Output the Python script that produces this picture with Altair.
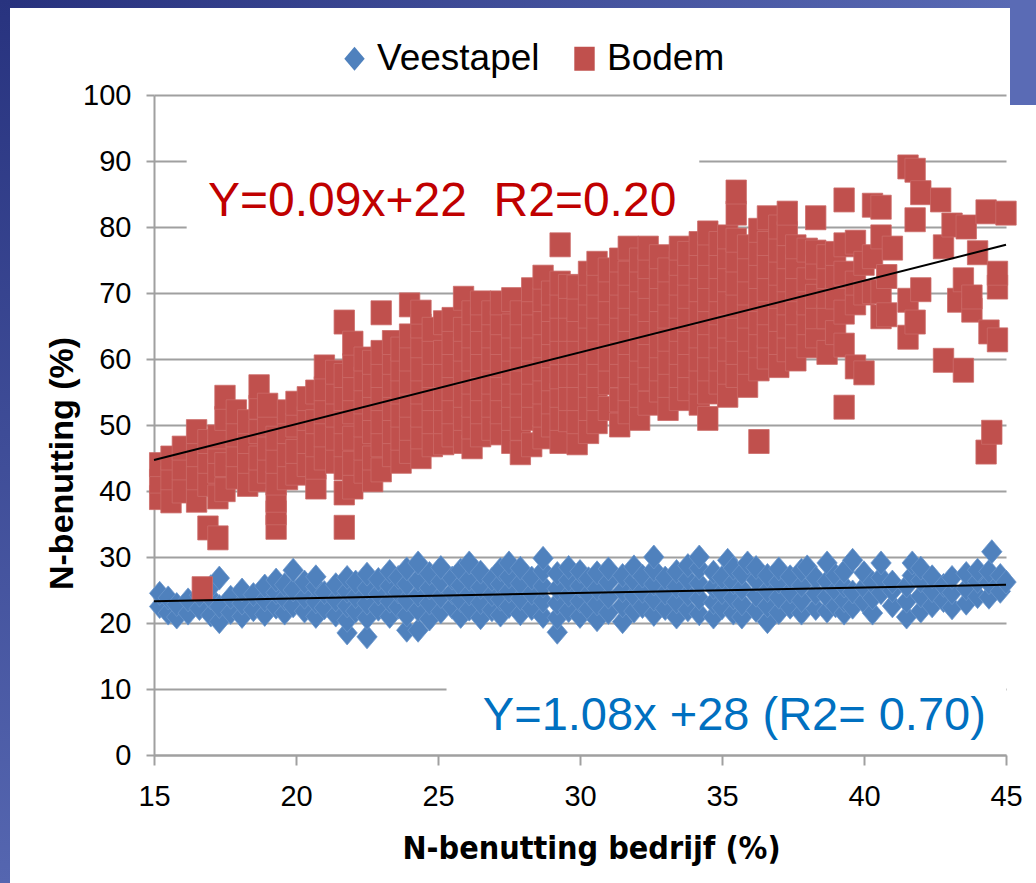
import altair as alt
import pandas as pd

# ---------------- data ----------------
series_names = ["Veestapel", "Bodem"]
series_colors = ["#4F81BD", "#C0504D"]
series_strokes = ["#6A96CB", "#CC6B68"]
diamond_path = "M0,-1L0.85,0L0,1L-0.85,0Z"
square_path = "M-0.85,-1L0.85,-1L0.85,1L-0.85,1Z"

# Veestapel (blue diamonds): (x, [y values])
vee_columns = [
    (15.2, [22.5, 24.5]), (15.5, [21.5, 23.8]), (15.8, [20.9, 22.8]),
    (16.2, [21.5, 23.5]), (16.6, [22.2, 24.2]), (17.0, [21.2, 23.8, 25.5]),
    (17.3, [20.2, 22.5, 26.8]), (17.7, [21.6, 23.9]), (18.1, [21.0, 23.0, 25.0]),
    (18.5, [22.0, 24.3]), (18.9, [21.3, 23.5, 25.6]), (19.3, [22.4, 24.6, 26.5]),
    (19.6, [21.5, 23.7, 25.8]), (19.9, [22.6, 25.0, 28.0]), (20.3, [21.8, 23.9, 26.2]),
    (20.7, [21.0, 23.2, 25.5, 27.0]), (21.0, [22.3, 24.6]), (21.4, [21.2, 23.5, 25.8]),
    (21.8, [18.5, 20.4, 22.6, 24.8, 26.9]), (22.1, [21.8, 24.0, 26.2]),
    (22.5, [17.9, 20.8, 23.0, 25.3, 27.4]), (22.9, [22.1, 24.4, 26.6]),
    (23.3, [21.0, 23.3, 25.6, 27.8]), (23.6, [22.4, 24.7, 26.9]),
    (23.9, [18.9, 21.2, 23.5, 25.9, 28.2]), (24.3, [18.9, 22.0, 24.2, 26.5, 29.1]),
    (24.7, [20.6, 23.0, 25.3, 27.5]), (25.1, [21.7, 24.0, 26.3, 28.4]),
    (25.5, [22.4, 24.6, 26.8]), (25.8, [21.0, 23.4, 25.7, 28.0]),
    (26.1, [22.1, 24.4, 26.6, 29.1]), (26.5, [20.8, 23.1, 25.4, 27.7]),
    (26.9, [22.0, 24.3, 26.6]), (27.2, [21.2, 23.6, 25.9, 28.1]),
    (27.5, [22.5, 24.8, 27.0, 29.1]), (27.9, [21.4, 23.7, 26.0, 28.3]),
    (28.3, [22.2, 24.5, 26.8]), (28.7, [21.0, 23.3, 25.6, 27.9, 29.8]),
    (29.2, [18.6, 20.8, 23.0, 25.2, 27.5]), (29.6, [21.9, 24.2, 26.5, 28.4]),
    (30.0, [21.0, 23.3, 25.6, 27.8]), (30.3, [22.1, 24.4, 26.7]),
    (30.6, [20.5, 22.9, 25.2, 27.6]), (31.0, [21.6, 23.9, 26.2, 28.2]),
    (31.5, [20.2, 22.6, 24.9, 27.2]), (31.9, [21.8, 24.1, 26.4, 28.5]),
    (32.2, [22.5, 24.8, 27.1]), (32.6, [21.3, 23.6, 25.9, 28.1, 30.0]),
    (33.0, [22.2, 24.5, 26.8]), (33.4, [20.9, 23.2, 25.5, 27.8]),
    (33.8, [22.0, 24.3, 26.6, 28.7]), (34.2, [21.4, 23.7, 26.0, 28.3, 30.0]),
    (34.7, [20.9, 23.1, 25.4, 27.7]), (35.0, [22.3, 24.6, 26.9]), (35.2, [29.5]),
    (35.4, [21.5, 23.8, 26.1, 28.3]), (35.7, [20.9, 22.9, 25.2, 27.5]), (35.9, [29.1]),
    (36.2, [21.9, 24.2, 26.5, 28.4]), (36.6, [20.2, 22.6, 24.9, 27.2]),
    (37.0, [21.6, 23.9, 26.2, 28.2]), (37.4, [22.4, 24.7, 27.0]),
    (37.8, [21.5, 23.4, 25.7, 28.0]), (38.0, [28.5]), (38.3, [22.2, 24.5, 26.8]),
    (38.7, [21.8, 24.0, 26.3, 29.1]), (39.0, [22.6, 24.9, 27.2]),
    (39.3, [21.5, 23.4, 25.6, 27.8]), (39.6, [22.4, 24.7, 29.5]),
    (40.0, [23.2, 25.4, 27.6]), (40.3, [21.5, 23.8, 26.1]), (40.6, [24.6, 26.9, 29.1]),
    (41.0, [22.6, 24.9, 26.2]), (41.5, [20.9, 23.3, 25.6]), (41.7, [27.2, 29.1]),
    (42.0, [21.8, 24.1, 26.4, 28.3]), (42.4, [22.6, 24.9, 27.0]), (42.8, [23.4, 25.7]),
    (43.1, [22.3, 24.6, 26.9]), (43.6, [23.0, 25.2, 27.5]), (44.0, [24.0, 26.3, 28.0]),
    (44.4, [23.9, 26.1, 27.8]), (44.5, [30.8]), (44.8, [24.8, 27.2]), (45.0, [26.2]),
]

# Bodem (red squares): (x, [y values])
bodem_columns = [
    (15.2, [39.0, 41.5, 44.0]), (15.6, [38.5, 42.0, 45.0]), (16.0, [40.0, 43.5, 46.5]),
    (16.5, [38.6, 42.0, 45.5, 49.0]), (16.7, [25.2]), (16.9, [34.4, 41.0, 44.5, 47.5]),
    (17.25, [32.9, 39.1, 43.0, 46.0, 48.2]), (17.5, [40.2, 44.0, 51.0, 54.2]),
    (17.9, [42.1, 45.5, 48.5, 52.0]), (18.3, [41.0, 44.5, 47.5, 50.5]),
    (18.7, [41.7, 45.0, 49.0, 52.7, 55.8]), (19.0, [43.0, 46.5, 50.0, 53.0]),
    (19.3, [34.5, 36.7, 38.6, 41.2, 44.5, 48.0]), (19.7, [42.0, 45.5, 49.0, 52.0]),
    (20.0, [42.7, 46.0, 50.0, 53.3]), (20.4, [44.0, 47.5, 51.0, 54.0]),
    (20.7, [40.6, 43.6, 47.0, 50.5, 55.0]), (21.0, [45.0, 48.5, 52.0, 55.5, 58.8]),
    (21.4, [44.5, 48.0, 51.5, 55.0, 58.0]),
    (21.7, [34.5, 39.7, 43.5, 47.0, 50.5, 54.0, 57.5, 65.6]),
    (22.0, [40.6, 44.2, 48.0, 52.0, 55.5, 59.0, 62.4]),
    (22.4, [43.0, 46.5, 50.0, 53.5, 57.0, 60.0]),
    (22.7, [41.7, 45.0, 49.0, 52.5, 56.0, 59.5]),
    (23.0, [43.2, 47.0, 50.5, 54.0, 57.5, 61.0, 67.0]),
    (23.4, [45.5, 49.0, 52.5, 56.0, 59.5, 62.5]),
    (23.7, [44.5, 48.0, 51.5, 55.0, 58.5, 61.5]),
    (24.0, [46.0, 49.5, 53.0, 56.5, 60.0, 63.5, 68.2]),
    (24.4, [45.2, 48.2, 51.5, 55.0, 58.5, 62.0, 65.0, 67.1]),
    (24.8, [47.0, 50.5, 54.0, 57.5, 61.0, 64.5]),
    (25.2, [47.3, 50.5, 54.0, 57.5, 61.0, 65.5]),
    (25.5, [48.5, 52.0, 55.5, 59.0, 62.5, 66.0]),
    (25.9, [47.5, 51.0, 54.5, 58.0, 61.5, 64.5, 69.2]),
    (26.2, [46.7, 49.7, 53.0, 56.5, 60.0, 63.5, 67.0]),
    (26.5, [48.5, 52.0, 55.5, 59.0, 62.5, 66.0, 68.5]),
    (26.9, [49.5, 53.0, 56.5, 60.0, 63.5, 67.0]),
    (27.2, [48.8, 52.0, 55.5, 59.0, 62.5, 65.5, 68.5]),
    (27.6, [47.5, 51.0, 54.5, 58.0, 61.5, 65.0, 69.0]),
    (27.9, [45.8, 49.5, 53.0, 56.5, 60.0, 63.5, 67.0]),
    (28.3, [47.0, 51.0, 54.5, 58.0, 61.5, 65.0, 68.5, 70.5]),
    (28.7, [48.2, 51.5, 55.0, 58.5, 62.0, 65.5, 69.0, 72.4]),
    (29.0, [50.0, 53.5, 57.0, 60.5, 64.0, 67.5, 70.0]),
    (29.3, [47.5, 51.0, 54.5, 57.3, 61.0, 64.5, 68.0, 71.5, 77.3]),
    (29.6, [50.8, 54.0, 57.5, 61.0, 64.5, 68.0, 71.0]),
    (29.9, [47.3, 50.5, 54.0, 57.5, 61.0, 64.5, 67.5, 70.9]),
    (30.3, [49.0, 52.5, 56.0, 59.5, 63.0, 66.5, 70.0, 73.0]),
    (30.6, [50.5, 54.0, 57.5, 61.0, 64.5, 68.0, 71.5, 74.5]),
    (31.0, [52.5, 56.4, 60.0, 63.5, 67.0, 70.5, 73.5]),
    (31.4, [50.0, 53.8, 57.5, 61.0, 64.5, 68.0, 71.5, 75.0]),
    (31.7, [52.0, 55.5, 59.0, 62.5, 66.0, 69.5, 73.0, 76.8]),
    (32.1, [51.0, 54.5, 58.0, 61.5, 65.0, 68.5, 72.0, 75.0]),
    (32.4, [53.3, 57.0, 60.5, 64.0, 67.5, 71.0, 74.0, 76.8]),
    (32.8, [55.3, 58.5, 62.0, 65.5, 69.0, 72.5, 75.5]),
    (33.1, [52.5, 56.0, 59.5, 63.0, 66.5, 70.0, 73.5]),
    (33.5, [54.0, 57.5, 61.0, 64.5, 68.0, 71.5, 74.5, 76.8]),
    (33.8, [55.5, 59.0, 62.5, 66.0, 69.5, 73.0, 76.0]),
    (34.2, [53.3, 56.5, 60.0, 63.5, 67.0, 70.5, 74.0, 77.5]),
    (34.5, [51.0, 55.0, 58.5, 62.0, 65.5, 69.0, 72.5, 76.0, 79.1]),
    (34.9, [56.5, 60.0, 63.5, 67.0, 70.5, 74.0, 77.5]),
    (35.2, [54.5, 58.0, 61.5, 65.0, 68.5, 72.0, 75.5, 78.5]),
    (35.5, [57.5, 61.0, 64.5, 68.0, 71.5, 75.0, 78.0, 82.1, 85.3]),
    (35.9, [56.0, 59.5, 63.0, 66.5, 70.0, 73.5, 77.0]),
    (36.3, [47.5, 58.5, 62.0, 65.5, 69.0, 72.5, 76.0, 79.5]),
    (36.6, [60.3, 63.5, 67.0, 70.5, 74.0, 77.5, 81.4]),
    (37.0, [59.0, 62.5, 66.0, 69.5, 73.0, 76.5, 80.0]),
    (37.3, [61.4, 65.0, 68.5, 72.0, 75.5, 79.0, 82.1]),
    (37.6, [60.0, 63.5, 67.0, 70.5, 74.0, 77.0]),
    (38.0, [62.0, 65.5, 68.5, 72.0, 76.5]),
    (38.3, [63.5, 66.4, 69.5, 73.9, 76.2, 81.4]),
    (38.7, [61.0, 66.4, 69.5, 72.5, 75.5]),
    (39.0, [64.0, 69.4, 72.5, 76.0]),
    (39.3, [52.7, 62.1, 67.1, 73.0, 77.3, 84.1]),
    (39.7, [58.8, 68.5, 71.5, 77.7]),
    (40.0, [57.9, 70.0, 74.5]),
    (40.3, [70.2, 75.5, 83.3]),
    (40.6, [66.4, 70.2, 78.5, 83.0]),
    (40.8, [66.7, 72.5]),
    (41.0, [76.8]),
    (41.55, [63.3, 68.9, 89.1]),
    (41.8, [65.6, 81.1, 88.6]),
    (42.0, [70.5, 85.2]),
    (42.7, [84.1]),
    (42.8, [59.8, 77.0]),
    (43.1, [80.3]),
    (43.3, [68.9]),
    (43.5, [58.3, 72.0]),
    (43.6, [80.0]),
    (43.8, [67.4, 69.4]),
    (44.0, [76.1]),
    (44.3, [45.9, 82.3]),
    (44.4, [64.1]),
    (44.5, [48.9]),
    (44.7, [62.9, 70.9, 73.0]),
    (45.0, [82.1]),
]

# trend lines (end points)
fit_series = ["Veestapel", "Veestapel", "Bodem", "Bodem"]
fit_x = [15, 45, 15, 45]
fit_y = [23.3, 25.8, 44.7, 77.3]

# annotations
ann_text = ["Y=0.09x+22\u00a0\u00a0R2=0.20", "Y=1.08x +28 (R2= 0.70)"]
ann_color = ["#C00000", "#0070C0"]
ann_size = [48, 47]
ann_x = [16.9, 26.58]
ann_y = [81.7, 3.8]
box_x0 = [16.15, 25.3]
box_x1 = [34.2, 45.0]
box_y0 = [78.5, 0.6]
box_y1 = [93.5, 14.5]

# ---------------- tables ----------------
rows = []
for x, ys in vee_columns:
    for y in ys:
        rows.append({"series": "Veestapel", "x": x, "y": y})
for x, ys in bodem_columns:
    for y in ys:
        rows.append({"series": "Bodem", "x": x, "y": y})
pts = pd.DataFrame(rows)
fit = pd.DataFrame({"series": fit_series, "x": fit_x, "y": fit_y})
ann = pd.DataFrame({"text": ann_text, "color": ann_color, "size": ann_size,
                    "x": ann_x, "y": ann_y})
boxes = pd.DataFrame({"x": box_x0, "x2": box_x1, "y": box_y0, "y2": box_y1})
one = pd.DataFrame({"k": [0]})

SANS = "Liberation Sans, Arial, sans-serif"
GRID = "#A0A0A0"

x_enc = alt.X(
    "x:Q",
    scale=alt.Scale(domain=[15, 45], nice=False, zero=False),
    axis=alt.Axis(
        values=[15, 20, 25, 30, 35, 40, 45], grid=False,
        domainColor=GRID, domainWidth=2, tickColor=GRID, tickWidth=2, tickSize=10,
        labelFont=SANS, labelFontSize=29, labelColor="#000000", labelPadding=17,
        labelFlush=False, labelOverlap=False,
        title="N-benutting bedrijf (%)", titleFont="DejaVu Sans Condensed, DejaVu Sans",
        titleFontSize=32, titleFontWeight="bold", titleColor="#000000",
        titleX=437, titleY=103, titleAlign="center", titleBaseline="alphabetic",
    ),
)
y_enc = alt.Y(
    "y:Q",
    scale=alt.Scale(domain=[0, 100], nice=False),
    axis=alt.Axis(
        values=list(range(0, 101, 10)), grid=True, gridColor=GRID, gridWidth=2,
        domainColor=GRID, domainWidth=2, tickColor=GRID, tickWidth=2, tickSize=8,
        labelFont=SANS, labelFontSize=29, labelColor="#000000", labelPadding=15,
        title="N-benutting (%)", titleFont=SANS, titleFontSize=34,
        titleFontWeight="bold", titleColor="#000000", titleAngle=270,
        titleX=-82, titleY=368, titleAlign="center", titleBaseline="alphabetic",
    ),
)

# slide frame (decoration outside the plot)
top_grad = alt.Gradient(gradient="linear", x1=0, x2=1, y1=0, y2=0,
                        stops=[alt.GradientStop(color="#27317d", offset=0),
                               alt.GradientStop(color="#5a6bb5", offset=1)])
left_grad = alt.Gradient(gradient="linear", x1=0, x2=0, y1=0, y2=1,
                         stops=[alt.GradientStop(color="#28337f", offset=0),
                                alt.GradientStop(color="#5566b0", offset=1)])
frame_top = alt.Chart(one).mark_rect(color=top_grad).encode(
    x=alt.value(-154), x2=alt.value(882), y=alt.value(-95), y2=alt.value(-87))
frame_left = alt.Chart(one).mark_rect(color=left_grad).encode(
    x=alt.value(-154), x2=alt.value(-144), y=alt.value(-95), y2=alt.value(788))
frame_right = alt.Chart(one).mark_rect(color="#5a6bb5").encode(
    x=alt.value(856), x2=alt.value(882), y=alt.value(-95), y2=alt.value(10))

box_layer = alt.Chart(boxes).mark_rect(color="white").encode(
    x=x_enc, x2="x2:Q", y=y_enc, y2="y2:Q")

legend = alt.Legend(
    orient="none", legendX=182, legendY=-55, direction="horizontal",
    title=None, labelFont=SANS, labelFontSize=37, labelColor="#000000",
    labelLimit=400, symbolSize=576, labelOffset=4, columnPadding=26, padding=0,
    symbolStrokeWidth=0, symbolOpacity=1)
color_enc = alt.Color("series:N", scale=alt.Scale(domain=series_names, range=series_colors),
                      legend=legend)
shape_enc = alt.Shape("series:N", scale=alt.Scale(domain=series_names,
                                                  range=[diamond_path, square_path]),
                      legend=legend)

vee_pts = alt.Chart(pts).transform_filter("datum.series == 'Veestapel'").mark_point(
    filled=True, opacity=1, size=576, stroke=series_strokes[0], strokeWidth=0.8
).encode(x=x_enc, y=y_enc, color=color_enc, shape=shape_enc)

bodem_pts = alt.Chart(pts).transform_filter("datum.series == 'Bodem'").mark_point(
    filled=True, opacity=1, size=576, stroke=series_strokes[1], strokeWidth=0.8
).encode(x=x_enc, y=y_enc, color=color_enc, shape=shape_enc)

lines = alt.Chart(fit).mark_line(color="black", strokeWidth=2).encode(
    x=x_enc, y=y_enc, detail="series:N")

texts = alt.Chart(ann).mark_text(
    align="left", baseline="alphabetic", font=SANS
).encode(x=x_enc, y=y_enc, text="text:N", color=alt.Color("color:N", scale=None),
         size=alt.Size("size:Q", scale=None))

chart = alt.layer(frame_top, frame_left, frame_right, box_layer, vee_pts, bodem_pts,
                  lines, texts).properties(
    width=852, height=660,
    padding={"left": 154, "top": 95, "right": 30, "bottom": 128},
    autosize=alt.AutoSizeParams(type="none"),
    background="white",
).configure_view(stroke=None)

chart.save("out.html", embed_options={"renderer": "svg", "actions": False})
